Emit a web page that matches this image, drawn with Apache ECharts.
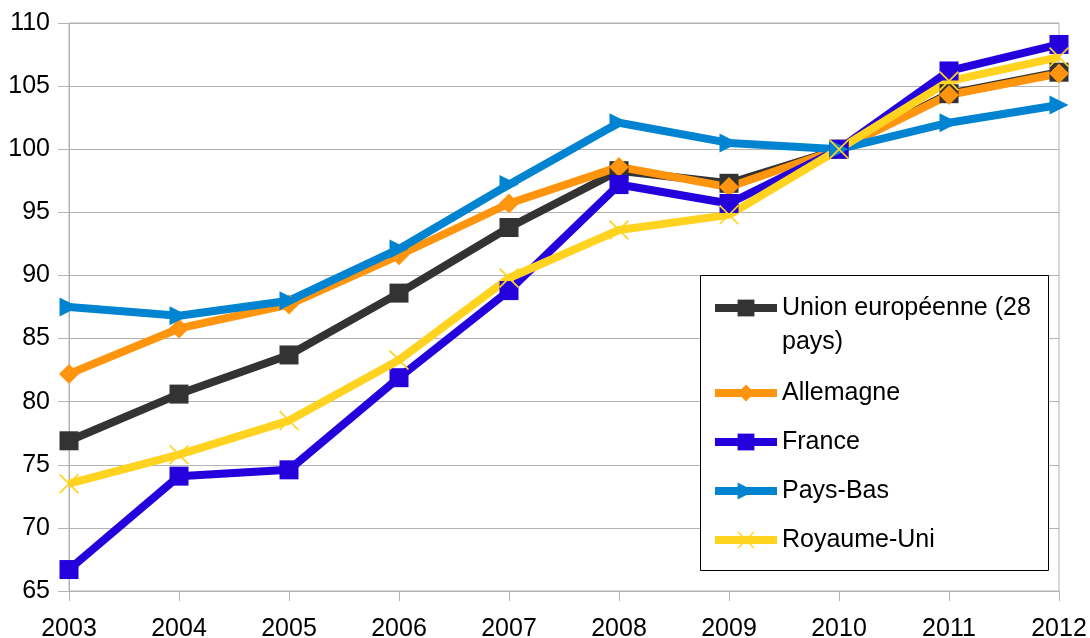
<!DOCTYPE html>
<html lang="fr">
<head>
<meta charset="utf-8">
<title>Indice 2003-2012</title>
<script src="https://cdn.jsdelivr.net/npm/echarts@6/dist/echarts.min.js"></script>
<style>
    html, body { margin: 0; padding: 0; background: #ffffff; }
    #chart { width: 1090px; height: 638px; }
</style>
</head>
<body>
<div id="chart"></div>
<script>
// Data
const years = ['2003', '2004', '2005', '2006', '2007', '2008', '2009', '2010', '2011', '2012'];
const yTicks = { min: 65, max: 110, step: 5 };

const ueValues = [76.9, 80.6, 83.7, 88.6, 93.8, 98.3, 97.3, 100, 104.4, 106.1];
const allemagneValues = [82.2, 85.8, 87.7, 91.6, 95.7, 98.6, 97.0, 100, 104.3, 106.0];
const franceValues = [66.7, 74.1, 74.6, 81.9, 88.8, 97.2, 95.7, 100, 106.2, 108.3];
const paysBasValues = [87.5, 86.8, 88.0, 92.1, 97.2, 102.1, 100.5, 100, 102.1, 103.5];
const royaumeUniValues = [73.5, 75.8, 78.5, 83.3, 89.8, 93.6, 94.8, 100, 105.4, 107.3];

const seriesNames = ['Union européenne (28 pays)', 'Allemagne', 'France', 'Pays-Bas', 'Royaume-Uni'];

document.addEventListener('DOMContentLoaded', function() {
    initChart();
});

function initChart() {
    const chartDom = document.getElementById('chart');
    const myChart = echarts.init(chartDom, null, { renderer: 'canvas' });

    const font = 'Liberation Sans';
    const gridGray = '#b3b3b3';
    // thin "x" marker, filled polygon
    const crossPath = 'path://M0,1.2L1.2,0L10,8.8L18.8,0L20,1.2L11.2,10L20,18.8L18.8,20L10,11.2L1.2,20L0,18.8L8.8,10Z';

    function makeSeries(name, values, color, symbol, size, rotate) {
        return {
            name: name,
            type: 'line',
            data: values,
            symbol: symbol,
            symbolSize: size,
            symbolRotate: rotate || 0,
            showSymbol: true,
            showAllSymbol: true,
            lineStyle: { color: color, width: 8 },
            itemStyle: { color: color },
            emphasis: { disabled: true }
        };
    }

    const legendCommon = {
        orient: 'vertical',
        left: 711,
        itemWidth: 62,
        itemHeight: 21,
        selectedMode: false,
        padding: 0,
        lineStyle: { width: 8 },
        textStyle: {
            fontFamily: font,
            fontSize: 25,
            color: '#000000',
            lineHeight: 34
        }
    };

    const option = {
        animation: false,
        backgroundColor: '#ffffff',
        grid: {
            left: 69,
            right: 31,
            top: 23,
            bottom: 47,
            outerBoundsMode: 'none',
            show: true,
            borderColor: gridGray,
            borderWidth: 1
        },
        xAxis: {
            type: 'category',
            data: years,
            boundaryGap: false,
            axisLine: { lineStyle: { color: gridGray, width: 1 } },
            axisTick: { show: true, length: 10, lineStyle: { color: gridGray } },
            splitLine: { show: false },
            axisLabel: {
                fontFamily: font,
                fontSize: 25,
                color: '#000000',
                margin: 26
            }
        },
        yAxis: {
            type: 'value',
            min: yTicks.min,
            max: yTicks.max,
            interval: yTicks.step,
            axisLine: { show: true, lineStyle: { color: gridGray, width: 1 } },
            axisTick: { show: true, length: 11, lineStyle: { color: gridGray } },
            splitLine: { show: true, lineStyle: { color: gridGray, width: 1 } },
            axisLabel: {
                fontFamily: font,
                fontSize: 25,
                color: '#000000',
                margin: 19
            }
        },
        // legend frame
        graphic: [{
            type: 'rect',
            z: 3,
            shape: { x: 700.5, y: 275.5, width: 348, height: 295 },
            style: { fill: '#ffffff', stroke: '#000000', lineWidth: 1 }
        }],
        legend: [
            // first entry wraps on two lines; the empty first line keeps the icon beside "Union..."
            Object.assign({}, legendCommon, {
                top: 257,
                data: [seriesNames[0]],
                formatter: function() { return '\nUnion européenne (28\npays)'; }
            }),
            Object.assign({}, legendCommon, {
                top: 376,
                itemGap: 15,
                data: seriesNames.slice(1)
            })
        ],
        series: [
            makeSeries(seriesNames[0], ueValues, '#333333', 'rect', 19),
            makeSeries(seriesNames[1], allemagneValues, '#ff950e', 'diamond', 20),
            makeSeries(seriesNames[2], franceValues, '#2300dc', 'rect', 19),
            makeSeries(seriesNames[3], paysBasValues, '#0084d1', 'triangle', 19, -90),
            makeSeries(seriesNames[4], royaumeUniValues, '#ffd320', crossPath, 20)
        ]
    };

    myChart.setOption(option);
}
</script>
</body>
</html>
